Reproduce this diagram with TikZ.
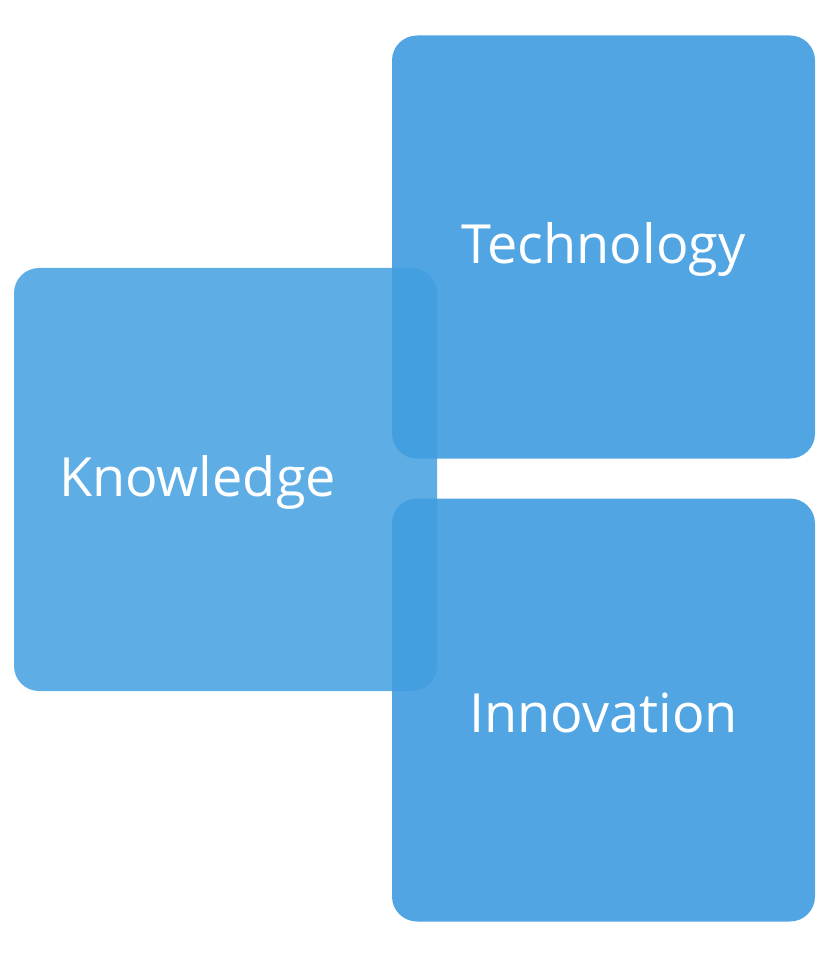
\documentclass[tikz,border=0pt]{standalone}
\usepackage{fontspec}
\setmainfont{Open Sans}
\begin{document}
\begin{tikzpicture}[x=1pt,y=-1pt,
  tile/.style={rounded corners=25pt, minimum width=423pt, minimum height=423pt,
    inner sep=0pt},
  back/.style={tile, fill=blueback},
  front/.style={tile, fill=bluefront, fill opacity=0.85},
  caption/.style={text=white, inner sep=0pt, font=\fontsize{54}{60}\selectfont}]
\definecolor{blueback}{RGB}{82,165,227}
\definecolor{bluefront}{RGB}{66,159,225}
\useasboundingbox (0,0) rectangle (828,957);
\node[back] (tech) at (603.5,247) {};
\node[back] (inno) at (603.5,710) {};
\node[front] (know) at (225.5,479.5) {};
\node[caption] (techtext) at (603.5,249) {Technology};
\node[caption] (innotext) at (603.5,713) {Innovation};
\node[caption] (knowtext) at (197.5,482) {Knowledge};
\end{tikzpicture}
\end{document}
